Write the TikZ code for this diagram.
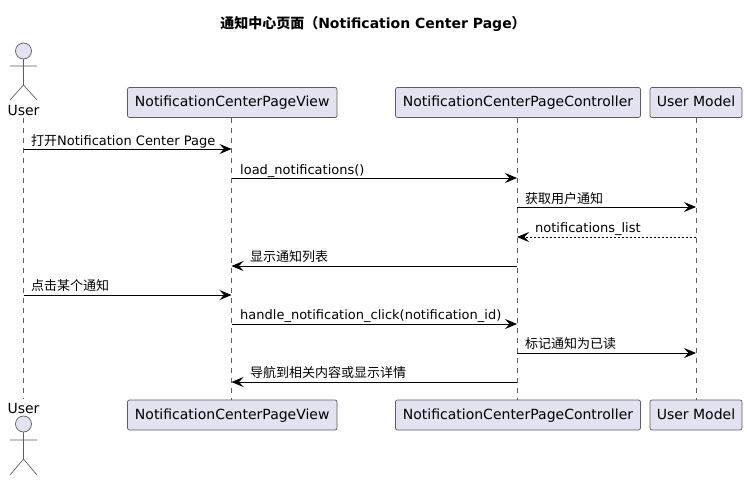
\documentclass[tikz,border=0pt]{standalone}
\usepackage{fontspec}
\setmainfont{DejaVu Sans}
\newfontfamily\cjk{Noto Sans CJK SC}
\usetikzlibrary{arrows.meta}
\definecolor{pfill}{HTML}{E2E2F0}
\definecolor{pline}{HTML}{181818}
\tikzset{
  x=1pt,y=-1pt,
  partbox/.style={draw=pline!70,fill=pfill,line width=0.7pt,rounded corners=2pt,minimum height=30pt,inner sep=0pt,text height=11pt,text depth=3pt,font=\fontsize{14}{16}\selectfont,text=black,anchor=center},
  lifeline/.style={draw=pline!70,line width=0.6pt,dash pattern=on 5pt off 5pt},
  msg/.style={draw=black,line width=0.9pt,-{Stealth[length=12pt,width=10pt,inset=4.5pt]}},
  reply/.style={msg,dash pattern=on 2pt off 2pt},
  msglabel/.style={anchor=base west,inner sep=0pt,font=\fontsize{13}{15}\selectfont,text=black},
  actorline/.style={draw=pline!70,line width=0.7pt},
  actorhead/.style={actorline,fill=pfill},
  actorname/.style={inner sep=0pt,font=\fontsize{14}{16}\selectfont,text=black,anchor=base},
}
\begin{document}
\begin{tikzpicture}
\useasboundingbox (0,0) rectangle (747,480);
\fill[white] (0,0) rectangle (747,480);
\node[inner sep=0pt,anchor=base,font=\fontsize{14}{16}\selectfont\bfseries] (title) at (373,28) {{\cjk 通知中心页面（}Notification Center Page{\cjk ）}};

% top participants
\coordinate (u) at (23.5,118);
\node[partbox,minimum width=209.5pt] (vT) at (232.25,102.5) {NotificationCenterPageView};
\node[partbox,minimum width=245pt] (cT) at (518,102.5) {NotificationCenterPageController};
\node[partbox,minimum width=92pt] (mT) at (696,102.5) {User Model};
% bottom participants
\node[partbox,minimum width=209.5pt] (vB) at (232.25,415) {NotificationCenterPageView};
\node[partbox,minimum width=245pt] (cB) at (518,415) {NotificationCenterPageController};
\node[partbox,minimum width=92pt] (mB) at (696,415) {User Model};

% lifelines
\coordinate (uB) at (23.5,399);
\coordinate (v) at (231.5,118);
\coordinate (c) at (517,118);
\coordinate (m) at (696,118);
\draw[lifeline] (u) -- (uB);
\draw[lifeline] (v) -- (v |- vB.north);
\draw[lifeline] (c) -- (c |- cB.north);
\draw[lifeline] (m) -- (m |- mB.north);

% actors
\node[actorname] (userT) at (23.5,115.5) {User};
\draw[actorhead] (23.5,51) circle (8);
\draw[actorline] (23.5,59) -- (23.5,85) (10,66) -- (37,66) (10,100) -- (23.5,85) -- (37,100);
\node[actorname] (userB) at (23.5,413) {User};
\draw[actorhead] (23.5,424) circle (8);
\draw[actorline] (23.5,432) -- (23.5,459) (10,440) -- (37,440) (10,475) -- (23.5,459) -- (37,475);

% messages
\draw[msg] (u |- 0,149) -- (v |- 0,149);
\node[msglabel] (l1) at (31,145) {{\cjk 打开}Notification Center Page};
\draw[msg] (v |- 0,178) -- (c |- 0,178);
\node[msglabel] (l2) at (240,174) {load\_notifications()};
\draw[msg] (c |- 0,207) -- (m |- 0,207);
\node[msglabel] (l3) at (525,203) {\cjk 获取用户通知};
\draw[reply] (m |- 0,237) -- (c |- 0,237);
\node[msglabel] (l4) at (535,232) {notifications\_list};
\draw[msg] (c |- 0,266) -- (v |- 0,266);
\node[msglabel] (l5) at (250,261) {\cjk 显示通知列表};
\draw[msg] (u |- 0,295) -- (v |- 0,295);
\node[msglabel] (l6) at (31,290) {\cjk 点击某个通知};
\draw[msg] (v |- 0,324) -- (c |- 0,324);
\node[msglabel] (l7) at (240,319) {handle\_notification\_click(notification\_id)};
\draw[msg] (c |- 0,353) -- (m |- 0,353);
\node[msglabel] (l8) at (525,348) {\cjk 标记通知为已读};
\draw[msg] (c |- 0,382) -- (v |- 0,382);
\node[msglabel] (l9) at (250,377) {\cjk 导航到相关内容或显示详情};
\end{tikzpicture}
\end{document}
